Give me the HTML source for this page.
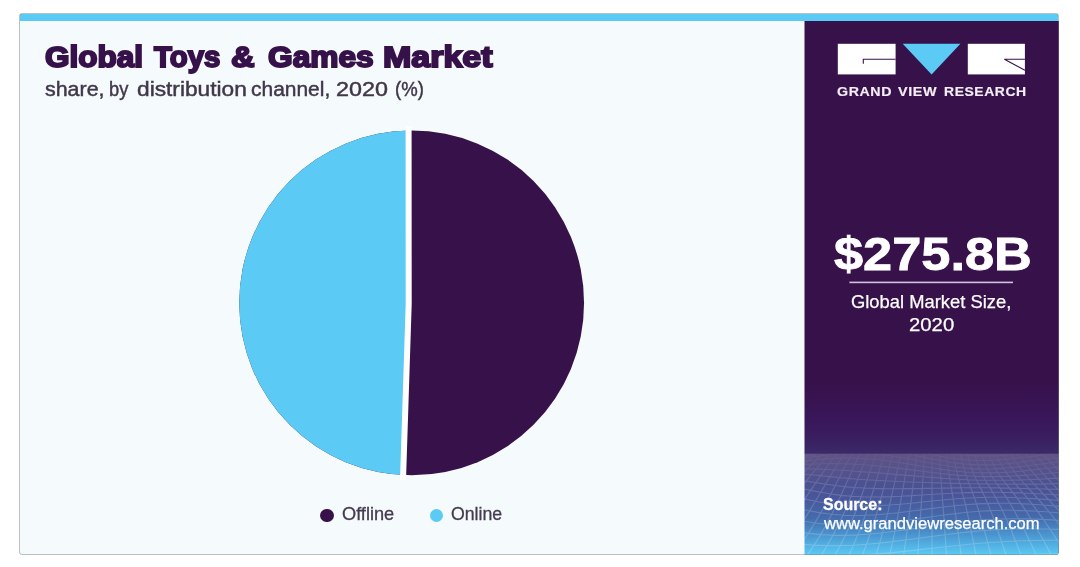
<!DOCTYPE html>
<html><head><meta charset="utf-8">
<style>
html,body{margin:0;padding:0;background:#fff;}
body{width:1080px;height:567px;position:relative;overflow:hidden;font-family:"Liberation Sans",sans-serif;}
.a{position:absolute;}
.t{position:absolute;white-space:nowrap;transform-origin:0 0;}
#card{left:19px;top:13px;width:1040px;height:542px;border-radius:3px;background:#f5fafd;overflow:hidden;}
#frame{left:19px;top:13px;width:1040px;height:542px;box-sizing:border-box;border:1px solid rgba(120,125,130,.45);border-radius:3px;pointer-events:none;}
#topbar{left:20px;top:14px;width:1038px;height:7px;background:#5bcbf5;}
.dot{position:absolute;width:13.4px;height:13.4px;border-radius:50%;}
#all{position:absolute;left:0;top:0;width:1080px;height:567px;filter:blur(0.6px);}
</style></head><body>
<div id="all">
<div class="a" id="card"></div>
<div class="a" id="topbar"></div>

<svg class="a" style="left:0;top:0" width="1080" height="567" viewBox="0 0 1080 567">
  <defs>
    <linearGradient id="sg" gradientUnits="userSpaceOnUse" x1="0" y1="21" x2="0" y2="555">
      <stop offset="0" stop-color="#37114a"/>
      <stop offset="0.6742" stop-color="#37114a"/>
      <stop offset="0.7491" stop-color="#39175a"/>
      <stop offset="0.7865" stop-color="#3a2061"/>
      <stop offset="0.8090" stop-color="#3a2a68"/>
      <stop offset="0.8521" stop-color="#3e3f82"/>
      <stop offset="0.8914" stop-color="#3e4c93"/>
      <stop offset="0.9307" stop-color="#3f67aa"/>
      <stop offset="0.9625" stop-color="#4894cf"/>
      <stop offset="1" stop-color="#5bcbf5"/>
    </linearGradient>
    <clipPath id="cc"><rect x="19" y="13" width="1040" height="542" rx="3" ry="3"/></clipPath>
    <clipPath id="pc"><circle cx="411.65" cy="302.95" r="172.4"/></clipPath>
    <linearGradient id="hz" x1="0" y1="0" x2="0" y2="1">
      <stop offset="0" stop-color="#fff" stop-opacity="0.19"/>
      <stop offset="0.3" stop-color="#fff" stop-opacity="0.07"/>
      <stop offset="0.7" stop-color="#fff" stop-opacity="0.02"/>
      <stop offset="1" stop-color="#fff" stop-opacity="0"/>
    </linearGradient>
    <clipPath id="mc"><rect x="0" y="0" width="255" height="102"/></clipPath>
    <linearGradient id="mg" x1="0" y1="0" x2="0" y2="1">
      <stop offset="0" stop-color="#fff" stop-opacity="0.15"/>
      <stop offset="0.12" stop-color="#fff" stop-opacity="0.35"/>
      <stop offset="0.35" stop-color="#fff" stop-opacity="0.85"/>
      <stop offset="1" stop-color="#fff" stop-opacity="1"/>
    </linearGradient>
    <mask id="mm" maskUnits="userSpaceOnUse" x="0" y="0" width="255" height="102"><rect x="0" y="0" width="255" height="102" fill="url(#mg)"/></mask>
  </defs>
  <rect x="804.5" y="21" width="254.5" height="534" fill="url(#sg)" clip-path="url(#cc)"/>
  <!-- pie -->
  <circle cx="411.65" cy="302.95" r="172.4" fill="#37114a"/>
  <path d="M408.6 120 L408.7 304 L403 486 L230 486 L230 120 Z" fill="#5bcbf5" clip-path="url(#pc)"/>
  <path d="M408.6 126 L408.7 304 L403 480" fill="none" stroke="#fff" stroke-width="6" stroke-linejoin="round"/>
  <!-- mesh -->
  <g transform="translate(804 453.4)" clip-path="url(#mc)">
    <rect x="0" y="0" width="255" height="102" fill="url(#hz)"/>
    <path d="M-66.6 -0.9 L-59.6 -0.4 L-52.7 -0.1 L-45.7 0.0 L-38.8 -0.0 L-31.8 -0.2 L-24.9 -0.7 L-17.9 -1.3 L-11.0 -2.1 L-4.0 -3.1 L2.9 -4.2 L9.9 -5.3 L16.8 -6.5 L23.8 -7.7 L30.7 -8.8 L37.7 -9.8 L44.6 -10.7 L51.6 -11.4 L58.5 -11.9 L65.5 -12.2 L72.4 -12.3 L79.4 -12.1 L86.3 -11.7 L93.3 -11.2 L100.2 -10.5 L107.2 -9.6 L114.1 -8.6 L121.1 -7.6 L128.0 -6.6 L134.9 -5.6 L141.9 -4.7 L148.8 -3.9 L155.8 -3.2 L162.7 -2.7 L169.7 -2.3 L176.6 -2.1 L183.6 -2.1 L190.5 -2.2 L197.5 -2.5 L204.4 -2.8 L211.4 -3.3 L218.3 -3.7 L225.3 -4.2 L232.2 -4.7 L239.2 -5.1 L246.1 -5.4 L253.1 -5.6 L260.0 -5.7 L267.0 -5.6 L273.9 -5.5 L280.9 -5.2 L287.8 -4.8 L294.8 -4.4 L301.7 -3.9 L308.7 -3.3 L315.6 -2.9 L322.6 -2.4 M-72.9 2.4 L-65.7 2.9 L-58.5 3.4 L-51.4 3.6 L-44.2 3.5 L-37.0 3.3 L-29.8 2.8 L-22.7 2.0 L-15.5 1.1 L-8.3 -0.0 L-1.1 -1.3 L6.0 -2.6 L13.2 -4.0 L20.4 -5.4 L27.6 -6.6 L34.7 -7.8 L41.9 -8.8 L49.1 -9.5 L56.3 -10.1 L63.4 -10.3 L70.6 -10.3 L77.8 -10.0 L85.0 -9.4 L92.1 -8.7 L99.3 -7.7 L106.5 -6.5 L113.7 -5.3 L120.8 -4.0 L128.0 -2.7 L135.2 -1.5 L142.3 -0.4 L149.5 0.6 L156.7 1.4 L163.9 2.0 L171.0 2.4 L178.2 2.5 L185.4 2.5 L192.6 2.2 L199.7 1.7 L206.9 1.2 L214.1 0.5 L221.3 -0.3 L228.4 -1.0 L235.6 -1.7 L242.8 -2.3 L250.0 -2.8 L257.1 -3.2 L264.3 -3.4 L271.5 -3.4 L278.7 -3.3 L285.8 -3.0 L293.0 -2.5 L300.2 -2.0 L307.4 -1.4 L314.5 -0.7 L321.7 -0.1 L328.9 0.5 M-79.6 5.6 L-72.2 6.2 L-64.8 6.6 L-57.3 6.9 L-49.9 6.8 L-42.5 6.6 L-35.1 6.0 L-27.7 5.2 L-20.3 4.2 L-12.9 3.0 L-5.4 1.6 L2.0 0.2 L9.4 -1.3 L16.8 -2.7 L24.2 -4.1 L31.6 -5.3 L39.0 -6.3 L46.4 -7.1 L53.9 -7.6 L61.3 -7.7 L68.7 -7.6 L76.1 -7.2 L83.5 -6.5 L90.9 -5.6 L98.3 -4.4 L105.8 -3.1 L113.2 -1.6 L120.6 -0.1 L128.0 1.3 L135.4 2.7 L142.8 4.0 L150.2 5.1 L157.7 6.0 L165.1 6.6 L172.5 7.0 L179.9 7.1 L187.3 6.9 L194.7 6.5 L202.1 5.9 L209.6 5.2 L217.0 4.3 L224.4 3.4 L231.8 2.5 L239.2 1.6 L246.6 0.8 L254.0 0.1 L261.4 -0.4 L268.9 -0.7 L276.3 -0.8 L283.7 -0.7 L291.1 -0.4 L298.5 0.1 L305.9 0.6 L313.3 1.3 L320.8 2.0 L328.2 2.8 L335.6 3.4 M-86.8 8.7 L-79.1 9.3 L-71.4 9.7 L-63.7 9.9 L-56.1 9.9 L-48.4 9.6 L-40.7 9.0 L-33.1 8.2 L-25.4 7.2 L-17.7 6.0 L-10.1 4.6 L-2.4 3.1 L5.3 1.7 L13.0 0.2 L20.6 -1.1 L28.3 -2.3 L36.0 -3.2 L43.6 -3.9 L51.3 -4.3 L59.0 -4.4 L66.6 -4.2 L74.3 -3.7 L82.0 -2.9 L89.7 -1.8 L97.3 -0.5 L105.0 0.9 L112.7 2.4 L120.3 4.0 L128.0 5.6 L135.7 7.0 L143.3 8.3 L151.0 9.5 L158.7 10.4 L166.3 11.0 L174.0 11.3 L181.7 11.4 L189.4 11.2 L197.0 10.8 L204.7 10.1 L212.4 9.3 L220.0 8.3 L227.7 7.3 L235.4 6.3 L243.0 5.3 L250.7 4.4 L258.4 3.6 L266.1 3.0 L273.7 2.6 L281.4 2.4 L289.1 2.4 L296.7 2.7 L304.4 3.1 L312.1 3.6 L319.7 4.3 L327.4 5.0 L335.1 5.7 L342.8 6.4 M-94.4 11.8 L-86.5 12.3 L-78.6 12.6 L-70.6 12.7 L-62.7 12.7 L-54.7 12.3 L-46.8 11.8 L-38.8 11.0 L-30.9 10.0 L-22.9 8.8 L-15.0 7.6 L-7.1 6.2 L0.9 4.8 L8.8 3.5 L16.8 2.4 L24.7 1.4 L32.7 0.6 L40.6 0.1 L48.6 -0.2 L56.5 -0.2 L64.4 0.1 L72.4 0.7 L80.3 1.5 L88.3 2.6 L96.2 3.9 L104.2 5.3 L112.1 6.8 L120.1 8.4 L128.0 9.9 L135.9 11.3 L143.9 12.6 L151.8 13.7 L159.8 14.6 L167.7 15.2 L175.7 15.5 L183.6 15.6 L191.6 15.3 L199.5 14.9 L207.4 14.2 L215.4 13.4 L223.3 12.4 L231.3 11.4 L239.2 10.4 L247.2 9.3 L255.1 8.4 L263.1 7.6 L271.0 6.9 L278.9 6.5 L286.9 6.2 L294.8 6.1 L302.8 6.3 L310.7 6.6 L318.7 7.0 L326.6 7.5 L334.6 8.1 L342.5 8.8 L350.4 9.3 M-102.7 14.9 L-94.5 15.2 L-86.2 15.4 L-78.0 15.4 L-69.7 15.2 L-61.5 14.9 L-53.3 14.3 L-45.0 13.6 L-36.8 12.7 L-28.5 11.7 L-20.3 10.6 L-12.1 9.4 L-3.8 8.3 L4.4 7.2 L12.7 6.3 L20.9 5.6 L29.1 5.0 L37.4 4.8 L45.6 4.7 L53.8 4.9 L62.1 5.3 L70.3 5.9 L78.6 6.7 L86.8 7.8 L95.0 9.0 L103.3 10.3 L111.5 11.7 L119.8 13.1 L128.0 14.4 L136.2 15.7 L144.5 16.8 L152.7 17.8 L161.0 18.6 L169.2 19.1 L177.4 19.4 L185.7 19.5 L193.9 19.3 L202.2 18.9 L210.4 18.3 L218.6 17.6 L226.9 16.7 L235.1 15.8 L243.3 14.8 L251.6 13.9 L259.8 13.0 L268.1 12.2 L276.3 11.5 L284.5 11.0 L292.8 10.6 L301.0 10.5 L309.3 10.4 L317.5 10.6 L325.7 10.8 L334.0 11.2 L342.2 11.6 L350.5 12.0 L358.7 12.4 M-111.6 18.0 L-103.0 18.1 L-94.5 18.0 L-85.9 17.9 L-77.4 17.6 L-68.8 17.2 L-60.2 16.7 L-51.7 16.1 L-43.1 15.4 L-34.6 14.6 L-26.0 13.7 L-17.5 12.7 L-8.9 11.9 L-0.4 11.1 L8.2 10.6 L16.8 10.3 L25.3 10.1 L33.9 10.2 L42.4 10.4 L51.0 10.8 L59.5 11.3 L68.1 12.0 L76.7 12.7 L85.2 13.7 L93.8 14.7 L102.3 15.8 L110.9 16.9 L119.4 18.0 L128.0 19.1 L136.6 20.1 L145.1 21.0 L153.7 21.8 L162.2 22.4 L170.8 22.9 L179.3 23.2 L187.9 23.2 L196.5 23.1 L205.0 22.8 L213.6 22.4 L222.1 21.8 L230.7 21.1 L239.2 20.4 L247.8 19.6 L256.4 18.8 L264.9 18.0 L273.5 17.3 L282.0 16.7 L290.6 16.2 L299.1 15.7 L307.7 15.4 L316.2 15.2 L324.8 15.1 L333.4 15.1 L341.9 15.2 L350.5 15.3 L359.0 15.4 L367.6 15.6 M-121.2 21.3 L-112.3 21.0 L-103.4 20.7 L-94.5 20.4 L-85.6 20.0 L-76.7 19.6 L-67.8 19.2 L-58.9 18.7 L-50.0 18.2 L-41.1 17.6 L-32.2 16.9 L-23.3 16.3 L-14.4 15.8 L-5.5 15.4 L3.4 15.3 L12.3 15.5 L21.2 15.9 L30.1 16.4 L39.0 16.9 L47.9 17.6 L56.8 18.2 L65.7 18.8 L74.6 19.5 L83.5 20.2 L92.4 21.0 L101.3 21.7 L110.2 22.5 L119.1 23.3 L128.0 24.0 L136.9 24.7 L145.8 25.3 L154.7 25.8 L163.6 26.3 L172.5 26.6 L181.4 26.8 L190.3 26.9 L199.2 26.9 L208.1 26.7 L217.0 26.5 L225.9 26.1 L234.8 25.7 L243.7 25.2 L252.6 24.7 L261.5 24.1 L270.4 23.6 L279.3 23.0 L288.2 22.4 L297.1 21.9 L306.0 21.4 L314.9 21.0 L323.8 20.5 L332.7 20.2 L341.6 19.9 L350.5 19.6 L359.4 19.4 L368.3 19.2 L377.2 19.1 M-131.6 24.8 L-122.3 24.2 L-113.1 23.6 L-103.8 23.1 L-94.5 22.6 L-85.2 22.2 L-76.0 21.9 L-66.7 21.5 L-57.4 21.2 L-48.2 20.9 L-38.9 20.5 L-29.6 20.2 L-20.3 20.0 L-11.1 20.1 L-1.8 20.5 L7.5 21.3 L16.7 22.2 L26.0 23.2 L35.3 24.2 L44.6 25.0 L53.8 25.8 L63.1 26.4 L72.4 27.0 L81.6 27.4 L90.9 27.9 L100.2 28.3 L109.5 28.6 L118.7 28.9 L128.0 29.2 L137.3 29.5 L146.5 29.8 L155.8 30.0 L165.1 30.2 L174.4 30.4 L183.6 30.5 L192.9 30.6 L202.2 30.7 L211.4 30.7 L220.7 30.7 L230.0 30.7 L239.3 30.5 L248.5 30.4 L257.8 30.2 L267.1 29.9 L276.3 29.6 L285.6 29.2 L294.9 28.7 L304.2 28.2 L313.4 27.6 L322.7 27.1 L332.0 26.4 L341.2 25.8 L350.5 25.2 L359.8 24.5 L369.1 23.9 L378.3 23.4 L387.6 22.9 M-142.9 28.7 L-133.2 27.8 L-123.6 26.9 L-113.9 26.2 L-104.2 25.6 L-94.5 25.2 L-84.9 25.0 L-75.2 24.8 L-65.5 24.7 L-55.8 24.7 L-46.2 24.6 L-36.5 24.6 L-26.8 24.9 L-17.1 25.5 L-7.5 26.4 L2.2 27.7 L11.9 29.2 L21.6 30.7 L31.2 32.1 L40.9 33.2 L50.6 34.1 L60.3 34.6 L69.9 35.0 L79.6 35.2 L89.3 35.3 L99.0 35.3 L108.6 35.2 L118.3 35.0 L128.0 34.8 L137.7 34.7 L147.4 34.5 L157.0 34.4 L166.7 34.3 L176.4 34.3 L186.1 34.4 L195.7 34.5 L205.4 34.7 L215.1 34.9 L224.8 35.2 L234.4 35.4 L244.1 35.7 L253.8 35.9 L263.5 36.0 L273.1 36.0 L282.8 35.9 L292.5 35.7 L302.2 35.4 L311.8 34.9 L321.5 34.3 L331.2 33.6 L340.9 32.8 L350.5 31.9 L360.2 30.9 L369.9 29.9 L379.6 29.0 L389.2 28.0 L398.9 27.2 M-155.3 33.2 L-145.1 31.9 L-135.0 30.8 L-124.9 29.9 L-114.8 29.3 L-104.7 29.0 L-94.6 28.8 L-84.4 28.9 L-74.3 29.1 L-64.2 29.3 L-54.1 29.6 L-44.0 30.0 L-33.9 30.7 L-23.7 31.7 L-13.6 33.2 L-3.5 35.0 L6.6 37.0 L16.7 38.9 L26.8 40.6 L37.0 42.0 L47.1 42.9 L57.2 43.4 L67.3 43.6 L77.4 43.5 L87.5 43.2 L97.7 42.8 L107.8 42.2 L117.9 41.6 L128.0 40.9 L138.1 40.3 L148.2 39.8 L158.3 39.3 L168.5 39.0 L178.6 38.8 L188.7 38.8 L198.8 38.9 L208.9 39.2 L219.0 39.6 L229.2 40.1 L239.3 40.6 L249.4 41.1 L259.5 41.7 L269.6 42.1 L279.7 42.5 L289.9 42.6 L300.0 42.7 L310.1 42.5 L320.2 42.1 L330.3 41.4 L340.4 40.6 L350.6 39.6 L360.7 38.5 L370.8 37.2 L380.9 35.9 L391.0 34.6 L401.1 33.3 L411.3 32.1 M-168.8 38.4 L-158.2 36.9 L-147.6 35.6 L-137.0 34.6 L-126.4 34.0 L-115.8 33.7 L-105.2 33.7 L-94.6 34.0 L-84.0 34.4 L-73.4 35.0 L-62.8 35.7 L-52.2 36.5 L-41.6 37.7 L-31.0 39.2 L-20.4 41.1 L-9.8 43.3 L0.8 45.7 L11.4 47.9 L22.0 49.8 L32.6 51.2 L43.2 52.2 L53.8 52.6 L64.4 52.6 L75.0 52.2 L85.6 51.6 L96.2 50.8 L106.8 49.8 L117.4 48.7 L128.0 47.6 L138.6 46.6 L149.2 45.6 L159.8 44.9 L170.4 44.3 L181.0 43.9 L191.6 43.8 L202.2 43.9 L212.8 44.3 L223.4 44.8 L234.0 45.5 L244.6 46.2 L255.2 47.1 L265.8 47.9 L276.4 48.6 L287.0 49.2 L297.6 49.6 L308.2 49.8 L318.8 49.8 L329.4 49.4 L340.0 48.8 L350.6 47.9 L361.2 46.8 L371.8 45.5 L382.4 44.0 L393.0 42.4 L403.6 40.8 L414.2 39.3 L424.8 37.8 M-183.7 44.6 L-172.5 42.9 L-161.4 41.5 L-150.3 40.5 L-139.1 39.9 L-128.0 39.7 L-116.9 39.8 L-105.7 40.3 L-94.6 41.1 L-83.5 42.0 L-72.4 43.1 L-61.2 44.4 L-50.1 46.0 L-39.0 47.9 L-27.8 50.1 L-16.7 52.6 L-5.6 55.2 L5.6 57.5 L16.7 59.5 L27.8 60.9 L39.0 61.8 L50.1 62.1 L61.2 61.9 L72.3 61.3 L83.5 60.4 L94.6 59.3 L105.7 57.9 L116.9 56.5 L128.0 55.0 L139.1 53.6 L150.3 52.4 L161.4 51.3 L172.5 50.5 L183.7 50.0 L194.8 49.8 L205.9 49.8 L217.0 50.2 L228.2 50.8 L239.3 51.6 L250.4 52.5 L261.6 53.5 L272.7 54.6 L283.8 55.5 L295.0 56.3 L306.1 56.9 L317.2 57.3 L328.4 57.3 L339.5 57.1 L350.6 56.5 L361.7 55.6 L372.9 54.4 L384.0 52.9 L395.1 51.3 L406.3 49.6 L417.4 47.8 L428.5 46.1 L439.7 44.5 M-200.1 51.8 L-188.4 50.2 L-176.7 48.8 L-165.0 47.8 L-153.2 47.3 L-141.5 47.2 L-129.8 47.5 L-118.1 48.3 L-106.4 49.3 L-94.7 50.6 L-82.9 52.0 L-71.2 53.7 L-59.5 55.6 L-47.8 57.8 L-36.1 60.3 L-24.3 62.8 L-12.6 65.4 L-0.9 67.7 L10.8 69.6 L22.5 70.9 L34.3 71.7 L46.0 71.9 L57.7 71.6 L69.4 70.8 L81.1 69.7 L92.8 68.3 L104.6 66.7 L116.3 65.0 L128.0 63.3 L139.7 61.6 L151.4 60.2 L163.2 58.9 L174.9 57.9 L186.6 57.2 L198.3 56.9 L210.0 56.9 L221.7 57.2 L233.5 57.8 L245.2 58.6 L256.9 59.6 L268.6 60.7 L280.3 61.8 L292.1 62.8 L303.8 63.8 L315.5 64.5 L327.2 64.9 L338.9 65.1 L350.7 64.9 L362.4 64.3 L374.1 63.5 L385.8 62.3 L397.5 60.9 L409.2 59.2 L421.0 57.5 L432.7 55.7 L444.4 54.0 L456.1 52.4 M-218.4 60.4 L-206.0 58.9 L-193.7 57.7 L-181.3 56.9 L-168.9 56.5 L-156.5 56.6 L-144.2 57.1 L-131.8 58.0 L-119.4 59.2 L-107.1 60.7 L-94.7 62.5 L-82.3 64.4 L-69.9 66.5 L-57.6 68.8 L-45.2 71.3 L-32.8 73.8 L-20.5 76.2 L-8.1 78.3 L4.3 80.0 L16.7 81.2 L29.0 81.8 L41.4 81.9 L53.8 81.5 L66.1 80.6 L78.5 79.4 L90.9 77.9 L103.3 76.2 L115.6 74.4 L128.0 72.6 L140.4 70.8 L152.7 69.2 L165.1 67.8 L177.5 66.7 L189.9 65.9 L202.2 65.4 L214.6 65.3 L227.0 65.5 L239.3 66.0 L251.7 66.7 L264.1 67.6 L276.5 68.7 L288.8 69.7 L301.2 70.7 L313.6 71.7 L325.9 72.4 L338.3 72.8 L350.7 73.0 L363.1 72.9 L375.4 72.5 L387.8 71.7 L400.2 70.6 L412.5 69.3 L424.9 67.9 L437.3 66.3 L449.7 64.6 L462.0 63.1 L474.4 61.7 M-238.8 70.6 L-225.7 69.4 L-212.6 68.5 L-199.5 67.9 L-186.4 67.7 L-173.3 68.0 L-160.2 68.6 L-147.1 69.6 L-134.0 71.0 L-120.9 72.6 L-107.8 74.4 L-94.7 76.4 L-81.6 78.6 L-68.5 80.8 L-55.4 83.1 L-42.3 85.4 L-29.2 87.5 L-16.1 89.3 L-3.0 90.8 L10.1 91.7 L23.2 92.2 L36.3 92.2 L49.4 91.8 L62.5 90.9 L75.6 89.7 L88.7 88.2 L101.8 86.6 L114.9 84.8 L128.0 83.0 L141.1 81.3 L154.2 79.7 L167.3 78.2 L180.4 77.1 L193.5 76.2 L206.6 75.6 L219.7 75.3 L232.8 75.3 L245.9 75.6 L259.0 76.1 L272.1 76.8 L285.2 77.7 L298.3 78.5 L311.4 79.4 L324.5 80.1 L337.6 80.8 L350.7 81.2 L363.8 81.4 L376.9 81.3 L390.0 81.0 L403.1 80.4 L416.2 79.6 L429.3 78.5 L442.4 77.3 L455.5 76.1 L468.6 74.8 L481.7 73.6 L494.8 72.5 M-261.9 82.6 L-247.9 81.8 L-234.0 81.3 L-220.1 81.1 L-206.2 81.2 L-192.2 81.7 L-178.3 82.5 L-164.4 83.5 L-150.5 84.9 L-136.5 86.4 L-122.6 88.1 L-108.7 89.9 L-94.8 91.9 L-80.9 93.8 L-66.9 95.8 L-53.0 97.6 L-39.1 99.3 L-25.2 100.8 L-11.2 101.9 L2.7 102.6 L16.6 103.0 L30.5 102.9 L44.5 102.5 L58.4 101.8 L72.3 100.7 L86.2 99.5 L100.2 98.0 L114.1 96.5 L128.0 94.9 L141.9 93.3 L155.8 91.8 L169.8 90.4 L183.7 89.3 L197.6 88.3 L211.5 87.6 L225.5 87.1 L239.4 86.9 L253.3 86.9 L267.2 87.1 L281.2 87.4 L295.1 87.9 L309.0 88.4 L322.9 88.9 L336.9 89.4 L350.8 89.9 L364.7 90.2 L378.6 90.3 L392.5 90.3 L406.5 90.1 L420.4 89.8 L434.3 89.2 L448.2 88.6 L462.2 87.9 L476.1 87.1 L490.0 86.3 L503.9 85.6 L517.9 85.0 M-287.9 96.6 L-273.1 96.5 L-258.2 96.5 L-243.4 96.8 L-228.5 97.3 L-213.7 97.9 L-198.8 98.8 L-184.0 99.8 L-169.1 101.0 L-154.2 102.3 L-139.4 103.7 L-124.5 105.1 L-109.7 106.6 L-94.8 108.1 L-80.0 109.5 L-65.1 110.8 L-50.3 112.0 L-35.4 113.0 L-20.6 113.7 L-5.7 114.2 L9.2 114.4 L24.0 114.4 L38.9 114.0 L53.7 113.5 L68.6 112.7 L83.4 111.8 L98.3 110.7 L113.1 109.5 L128.0 108.3 L142.9 107.0 L157.7 105.8 L172.6 104.6 L187.4 103.5 L202.3 102.5 L217.1 101.7 L232.0 101.0 L246.8 100.5 L261.7 100.1 L276.6 99.8 L291.4 99.7 L306.3 99.6 L321.1 99.7 L336.0 99.8 L350.8 99.9 L365.7 100.0 L380.5 100.1 L395.4 100.2 L410.2 100.2 L425.1 100.2 L440.0 100.1 L454.8 100.1 L469.7 99.9 L484.5 99.8 L499.4 99.7 L514.2 99.6 L529.1 99.6 L543.9 99.7 M-317.8 113.1 L-301.8 113.7 L-285.9 114.4 L-270.0 115.2 L-254.1 116.0 L-238.2 116.9 L-222.2 117.8 L-206.3 118.7 L-190.4 119.7 L-174.5 120.6 L-158.6 121.5 L-142.6 122.4 L-126.7 123.2 L-110.8 123.9 L-94.9 124.6 L-79.0 125.3 L-63.0 125.8 L-47.1 126.2 L-31.2 126.6 L-15.3 126.8 L0.6 126.9 L16.6 126.8 L32.5 126.7 L48.4 126.4 L64.3 126.0 L80.2 125.5 L96.2 125.0 L112.1 124.3 L128.0 123.5 L143.9 122.7 L159.8 121.8 L175.8 120.9 L191.7 120.0 L207.6 119.1 L223.5 118.1 L239.4 117.2 L255.4 116.3 L271.3 115.4 L287.2 114.6 L303.1 113.9 L319.0 113.3 L335.0 112.7 L350.9 112.2 L366.8 111.9 L382.7 111.6 L398.6 111.5 L414.6 111.4 L430.5 111.5 L446.4 111.7 L462.3 112.0 L478.2 112.4 L494.2 112.9 L510.1 113.5 L526.0 114.2 L541.9 114.9 L557.8 115.8 L573.8 116.6 M-352.2 132.2 L-335.1 133.7 L-317.9 135.2 L-300.8 136.5 L-283.6 137.8 L-266.5 138.9 L-249.3 139.8 L-232.2 140.6 L-215.0 141.2 L-197.9 141.6 L-180.7 141.9 L-163.6 142.0 L-146.4 142.0 L-129.3 141.9 L-112.1 141.8 L-95.0 141.6 L-77.8 141.4 L-60.7 141.2 L-43.5 141.1 L-26.4 141.0 L-9.2 141.0 L7.9 141.0 L25.1 141.0 L42.2 141.1 L59.4 141.1 L76.5 141.2 L93.7 141.2 L110.8 141.1 L128.0 141.0 L145.2 140.7 L162.3 140.3 L179.5 139.7 L196.6 139.0 L213.8 138.1 L230.9 137.1 L248.1 135.9 L265.2 134.7 L282.4 133.3 L299.5 131.9 L316.7 130.5 L333.8 129.2 L351.0 128.0 L368.1 126.9 L385.3 126.0 L402.4 125.3 L419.6 124.9 L436.7 124.7 L453.9 124.8 L471.0 125.2 L488.2 126.0 L505.3 126.9 L522.5 128.1 L539.6 129.5 L556.8 131.1 L573.9 132.8 L591.1 134.6 L608.2 136.3 M-392.4 154.7 L-373.8 157.1 L-355.2 159.3 L-336.7 161.3 L-318.1 162.9 L-299.5 164.2 L-280.9 165.2 L-262.3 165.8 L-243.7 165.9 L-225.1 165.8 L-206.5 165.3 L-188.0 164.6 L-169.4 163.7 L-150.8 162.6 L-132.2 161.6 L-113.6 160.5 L-95.0 159.5 L-76.4 158.7 L-57.9 158.1 L-39.3 157.6 L-20.7 157.4 L-2.1 157.5 L16.5 157.7 L35.1 158.1 L53.7 158.7 L72.2 159.3 L90.8 160.0 L109.4 160.6 L128.0 161.1 L146.6 161.4 L165.2 161.5 L183.8 161.4 L202.3 160.9 L220.9 160.1 L239.5 159.0 L258.1 157.6 L276.7 156.0 L295.3 154.1 L313.9 152.2 L332.4 150.1 L351.0 148.1 L369.6 146.2 L388.2 144.4 L406.8 143.0 L425.4 141.8 L444.0 141.1 L462.5 140.8 L481.1 141.0 L499.7 141.7 L518.3 142.8 L536.9 144.4 L555.5 146.4 L574.1 148.6 L592.7 151.1 L611.2 153.8 L629.8 156.5 L648.4 159.2 M-440.0 181.1 L-419.7 184.4 L-399.4 187.4 L-379.1 189.9 L-358.8 192.0 L-338.5 193.5 L-318.3 194.4 L-298.0 194.7 L-277.7 194.5 L-257.4 193.7 L-237.1 192.4 L-216.8 190.8 L-196.5 189.0 L-176.3 187.0 L-156.0 184.9 L-135.7 183.0 L-115.4 181.2 L-95.1 179.6 L-74.8 178.5 L-54.6 177.7 L-34.3 177.3 L-14.0 177.3 L6.3 177.8 L26.6 178.5 L46.9 179.6 L67.1 180.8 L87.4 182.1 L107.7 183.4 L128.0 184.5 L148.3 185.5 L168.6 186.1 L188.9 186.3 L209.1 186.2 L229.4 185.5 L249.7 184.4 L270.0 182.8 L290.3 180.9 L310.6 178.6 L330.8 176.0 L351.1 173.4 L371.4 170.7 L391.7 168.1 L412.0 165.8 L432.3 163.8 L452.5 162.3 L472.8 161.3 L493.1 160.9 L513.4 161.2 L533.7 162.1 L554.0 163.7 L574.3 165.9 L594.5 168.6 L614.8 171.7 L635.1 175.1 L655.4 178.8 L675.7 182.4 L696.0 186.0 M-66.6 -0.9 L-72.9 2.4 L-79.6 5.6 L-86.8 8.7 L-94.4 11.8 L-102.7 14.9 L-111.6 18.0 L-121.2 21.3 L-131.6 24.8 L-142.9 28.7 L-155.3 33.2 L-168.8 38.4 L-183.7 44.6 L-200.1 51.8 L-218.4 60.4 L-238.8 70.6 L-261.9 82.6 L-287.9 96.6 L-317.8 113.1 L-352.2 132.2 L-392.4 154.7 L-440.0 181.1 M-59.6 -0.4 L-65.7 2.9 L-72.2 6.2 L-79.1 9.3 L-86.5 12.3 L-94.5 15.2 L-103.0 18.1 L-112.3 21.0 L-122.3 24.2 L-133.2 27.8 L-145.1 31.9 L-158.2 36.9 L-172.5 42.9 L-188.4 50.2 L-206.0 58.9 L-225.7 69.4 L-247.9 81.8 L-273.1 96.5 L-301.8 113.7 L-335.1 133.7 L-373.8 157.1 L-419.7 184.4 M-52.7 -0.1 L-58.5 3.4 L-64.8 6.6 L-71.4 9.7 L-78.6 12.6 L-86.2 15.4 L-94.5 18.0 L-103.4 20.7 L-113.1 23.6 L-123.6 26.9 L-135.0 30.8 L-147.6 35.6 L-161.4 41.5 L-176.7 48.8 L-193.7 57.7 L-212.6 68.5 L-234.0 81.3 L-258.2 96.5 L-285.9 114.4 L-317.9 135.2 L-355.2 159.3 L-399.4 187.4 M-45.7 0.0 L-51.4 3.6 L-57.3 6.9 L-63.7 9.9 L-70.6 12.7 L-78.0 15.4 L-85.9 17.9 L-94.5 20.4 L-103.8 23.1 L-113.9 26.2 L-124.9 29.9 L-137.0 34.6 L-150.3 40.5 L-165.0 47.8 L-181.3 56.9 L-199.5 67.9 L-220.1 81.1 L-243.4 96.8 L-270.0 115.2 L-300.8 136.5 L-336.7 161.3 L-379.1 189.9 M-38.8 -0.0 L-44.2 3.5 L-49.9 6.8 L-56.1 9.9 L-62.7 12.7 L-69.7 15.2 L-77.4 17.6 L-85.6 20.0 L-94.5 22.6 L-104.2 25.6 L-114.8 29.3 L-126.4 34.0 L-139.1 39.9 L-153.2 47.3 L-168.9 56.5 L-186.4 67.7 L-206.2 81.2 L-228.5 97.3 L-254.1 116.0 L-283.6 137.8 L-318.1 162.9 L-358.8 192.0 M-31.8 -0.2 L-37.0 3.3 L-42.5 6.6 L-48.4 9.6 L-54.7 12.3 L-61.5 14.9 L-68.8 17.2 L-76.7 19.6 L-85.2 22.2 L-94.5 25.2 L-104.7 29.0 L-115.8 33.7 L-128.0 39.7 L-141.5 47.2 L-156.5 56.6 L-173.3 68.0 L-192.2 81.7 L-213.7 97.9 L-238.2 116.9 L-266.5 138.9 L-299.5 164.2 L-338.5 193.5 M-24.9 -0.7 L-29.8 2.8 L-35.1 6.0 L-40.7 9.0 L-46.8 11.8 L-53.3 14.3 L-60.2 16.7 L-67.8 19.2 L-76.0 21.9 L-84.9 25.0 L-94.6 28.8 L-105.2 33.7 L-116.9 39.8 L-129.8 47.5 L-144.2 57.1 L-160.2 68.6 L-178.3 82.5 L-198.8 98.8 L-222.2 117.8 L-249.3 139.8 L-280.9 165.2 L-318.3 194.4 M-17.9 -1.3 L-22.7 2.0 L-27.7 5.2 L-33.1 8.2 L-38.8 11.0 L-45.0 13.6 L-51.7 16.1 L-58.9 18.7 L-66.7 21.5 L-75.2 24.8 L-84.4 28.9 L-94.6 34.0 L-105.7 40.3 L-118.1 48.3 L-131.8 58.0 L-147.1 69.6 L-164.4 83.5 L-184.0 99.8 L-206.3 118.7 L-232.2 140.6 L-262.3 165.8 L-298.0 194.7 M-11.0 -2.1 L-15.5 1.1 L-20.3 4.2 L-25.4 7.2 L-30.9 10.0 L-36.8 12.7 L-43.1 15.4 L-50.0 18.2 L-57.4 21.2 L-65.5 24.7 L-74.3 29.1 L-84.0 34.4 L-94.6 41.1 L-106.4 49.3 L-119.4 59.2 L-134.0 71.0 L-150.5 84.9 L-169.1 101.0 L-190.4 119.7 L-215.0 141.2 L-243.7 165.9 L-277.7 194.5 M-4.0 -3.1 L-8.3 -0.0 L-12.9 3.0 L-17.7 6.0 L-22.9 8.8 L-28.5 11.7 L-34.6 14.6 L-41.1 17.6 L-48.2 20.9 L-55.8 24.7 L-64.2 29.3 L-73.4 35.0 L-83.5 42.0 L-94.7 50.6 L-107.1 60.7 L-120.9 72.6 L-136.5 86.4 L-154.2 102.3 L-174.5 120.6 L-197.9 141.6 L-225.1 165.8 L-257.4 193.7 M2.9 -4.2 L-1.1 -1.3 L-5.4 1.6 L-10.1 4.6 L-15.0 7.6 L-20.3 10.6 L-26.0 13.7 L-32.2 16.9 L-38.9 20.5 L-46.2 24.6 L-54.1 29.6 L-62.8 35.7 L-72.4 43.1 L-82.9 52.0 L-94.7 62.5 L-107.8 74.4 L-122.6 88.1 L-139.4 103.7 L-158.6 121.5 L-180.7 141.9 L-206.5 165.3 L-237.1 192.4 M9.9 -5.3 L6.0 -2.6 L2.0 0.2 L-2.4 3.1 L-7.1 6.2 L-12.1 9.4 L-17.5 12.7 L-23.3 16.3 L-29.6 20.2 L-36.5 24.6 L-44.0 30.0 L-52.2 36.5 L-61.2 44.4 L-71.2 53.7 L-82.3 64.4 L-94.7 76.4 L-108.7 89.9 L-124.5 105.1 L-142.6 122.4 L-163.6 142.0 L-188.0 164.6 L-216.8 190.8 M16.8 -6.5 L13.2 -4.0 L9.4 -1.3 L5.3 1.7 L0.9 4.8 L-3.8 8.3 L-8.9 11.9 L-14.4 15.8 L-20.3 20.0 L-26.8 24.9 L-33.9 30.7 L-41.6 37.7 L-50.1 46.0 L-59.5 55.6 L-69.9 66.5 L-81.6 78.6 L-94.8 91.9 L-109.7 106.6 L-126.7 123.2 L-146.4 142.0 L-169.4 163.7 L-196.5 189.0 M23.8 -7.7 L20.4 -5.4 L16.8 -2.7 L13.0 0.2 L8.8 3.5 L4.4 7.2 L-0.4 11.1 L-5.5 15.4 L-11.1 20.1 L-17.1 25.5 L-23.7 31.7 L-31.0 39.2 L-39.0 47.9 L-47.8 57.8 L-57.6 68.8 L-68.5 80.8 L-80.9 93.8 L-94.8 108.1 L-110.8 123.9 L-129.3 141.9 L-150.8 162.6 L-176.3 187.0 M30.7 -8.8 L27.6 -6.6 L24.2 -4.1 L20.6 -1.1 L16.8 2.4 L12.7 6.3 L8.2 10.6 L3.4 15.3 L-1.8 20.5 L-7.5 26.4 L-13.6 33.2 L-20.4 41.1 L-27.8 50.1 L-36.1 60.3 L-45.2 71.3 L-55.4 83.1 L-66.9 95.8 L-80.0 109.5 L-94.9 124.6 L-112.1 141.8 L-132.2 161.6 L-156.0 184.9 M37.7 -9.8 L34.7 -7.8 L31.6 -5.3 L28.3 -2.3 L24.7 1.4 L20.9 5.6 L16.8 10.3 L12.3 15.5 L7.5 21.3 L2.2 27.7 L-3.5 35.0 L-9.8 43.3 L-16.7 52.6 L-24.3 62.8 L-32.8 73.8 L-42.3 85.4 L-53.0 97.6 L-65.1 110.8 L-79.0 125.3 L-95.0 141.6 L-113.6 160.5 L-135.7 183.0 M44.6 -10.7 L41.9 -8.8 L39.0 -6.3 L36.0 -3.2 L32.7 0.6 L29.1 5.0 L25.3 10.1 L21.2 15.9 L16.7 22.2 L11.9 29.2 L6.6 37.0 L0.8 45.7 L-5.6 55.2 L-12.6 65.4 L-20.5 76.2 L-29.2 87.5 L-39.1 99.3 L-50.3 112.0 L-63.0 125.8 L-77.8 141.4 L-95.0 159.5 L-115.4 181.2 M51.6 -11.4 L49.1 -9.5 L46.4 -7.1 L43.6 -3.9 L40.6 0.1 L37.4 4.8 L33.9 10.2 L30.1 16.4 L26.0 23.2 L21.6 30.7 L16.7 38.9 L11.4 47.9 L5.6 57.5 L-0.9 67.7 L-8.1 78.3 L-16.1 89.3 L-25.2 100.8 L-35.4 113.0 L-47.1 126.2 L-60.7 141.2 L-76.4 158.7 L-95.1 179.6 M58.5 -11.9 L56.3 -10.1 L53.9 -7.6 L51.3 -4.3 L48.6 -0.2 L45.6 4.7 L42.4 10.4 L39.0 16.9 L35.3 24.2 L31.2 32.1 L26.8 40.6 L22.0 49.8 L16.7 59.5 L10.8 69.6 L4.3 80.0 L-3.0 90.8 L-11.2 101.9 L-20.6 113.7 L-31.2 126.6 L-43.5 141.1 L-57.9 158.1 L-74.8 178.5 M65.5 -12.2 L63.4 -10.3 L61.3 -7.7 L59.0 -4.4 L56.5 -0.2 L53.8 4.9 L51.0 10.8 L47.9 17.6 L44.6 25.0 L40.9 33.2 L37.0 42.0 L32.6 51.2 L27.8 60.9 L22.5 70.9 L16.7 81.2 L10.1 91.7 L2.7 102.6 L-5.7 114.2 L-15.3 126.8 L-26.4 141.0 L-39.3 157.6 L-54.6 177.7 M72.4 -12.3 L70.6 -10.3 L68.7 -7.6 L66.6 -4.2 L64.4 0.1 L62.1 5.3 L59.5 11.3 L56.8 18.2 L53.8 25.8 L50.6 34.1 L47.1 42.9 L43.2 52.2 L39.0 61.8 L34.3 71.7 L29.0 81.8 L23.2 92.2 L16.6 103.0 L9.2 114.4 L0.6 126.9 L-9.2 141.0 L-20.7 157.4 L-34.3 177.3 M79.4 -12.1 L77.8 -10.0 L76.1 -7.2 L74.3 -3.7 L72.4 0.7 L70.3 5.9 L68.1 12.0 L65.7 18.8 L63.1 26.4 L60.3 34.6 L57.2 43.4 L53.8 52.6 L50.1 62.1 L46.0 71.9 L41.4 81.9 L36.3 92.2 L30.5 102.9 L24.0 114.4 L16.6 126.8 L7.9 141.0 L-2.1 157.5 L-14.0 177.3 M86.3 -11.7 L85.0 -9.4 L83.5 -6.5 L82.0 -2.9 L80.3 1.5 L78.6 6.7 L76.7 12.7 L74.6 19.5 L72.4 27.0 L69.9 35.0 L67.3 43.6 L64.4 52.6 L61.2 61.9 L57.7 71.6 L53.8 81.5 L49.4 91.8 L44.5 102.5 L38.9 114.0 L32.5 126.7 L25.1 141.0 L16.5 157.7 L6.3 177.8 M93.3 -11.2 L92.1 -8.7 L90.9 -5.6 L89.7 -1.8 L88.3 2.6 L86.8 7.8 L85.2 13.7 L83.5 20.2 L81.6 27.4 L79.6 35.2 L77.4 43.5 L75.0 52.2 L72.3 61.3 L69.4 70.8 L66.1 80.6 L62.5 90.9 L58.4 101.8 L53.7 113.5 L48.4 126.4 L42.2 141.1 L35.1 158.1 L26.6 178.5 M100.2 -10.5 L99.3 -7.7 L98.3 -4.4 L97.3 -0.5 L96.2 3.9 L95.0 9.0 L93.8 14.7 L92.4 21.0 L90.9 27.9 L89.3 35.3 L87.5 43.2 L85.6 51.6 L83.5 60.4 L81.1 69.7 L78.5 79.4 L75.6 89.7 L72.3 100.7 L68.6 112.7 L64.3 126.0 L59.4 141.1 L53.7 158.7 L46.9 179.6 M107.2 -9.6 L106.5 -6.5 L105.8 -3.1 L105.0 0.9 L104.2 5.3 L103.3 10.3 L102.3 15.8 L101.3 21.7 L100.2 28.3 L99.0 35.3 L97.7 42.8 L96.2 50.8 L94.6 59.3 L92.8 68.3 L90.9 77.9 L88.7 88.2 L86.2 99.5 L83.4 111.8 L80.2 125.5 L76.5 141.2 L72.2 159.3 L67.1 180.8 M114.1 -8.6 L113.7 -5.3 L113.2 -1.6 L112.7 2.4 L112.1 6.8 L111.5 11.7 L110.9 16.9 L110.2 22.5 L109.5 28.6 L108.6 35.2 L107.8 42.2 L106.8 49.8 L105.7 57.9 L104.6 66.7 L103.3 76.2 L101.8 86.6 L100.2 98.0 L98.3 110.7 L96.2 125.0 L93.7 141.2 L90.8 160.0 L87.4 182.1 M121.1 -7.6 L120.8 -4.0 L120.6 -0.1 L120.3 4.0 L120.1 8.4 L119.8 13.1 L119.4 18.0 L119.1 23.3 L118.7 28.9 L118.3 35.0 L117.9 41.6 L117.4 48.7 L116.9 56.5 L116.3 65.0 L115.6 74.4 L114.9 84.8 L114.1 96.5 L113.1 109.5 L112.1 124.3 L110.8 141.1 L109.4 160.6 L107.7 183.4 M128.0 -6.6 L128.0 -2.7 L128.0 1.3 L128.0 5.6 L128.0 9.9 L128.0 14.4 L128.0 19.1 L128.0 24.0 L128.0 29.2 L128.0 34.8 L128.0 40.9 L128.0 47.6 L128.0 55.0 L128.0 63.3 L128.0 72.6 L128.0 83.0 L128.0 94.9 L128.0 108.3 L128.0 123.5 L128.0 141.0 L128.0 161.1 L128.0 184.5 M134.9 -5.6 L135.2 -1.5 L135.4 2.7 L135.7 7.0 L135.9 11.3 L136.2 15.7 L136.6 20.1 L136.9 24.7 L137.3 29.5 L137.7 34.7 L138.1 40.3 L138.6 46.6 L139.1 53.6 L139.7 61.6 L140.4 70.8 L141.1 81.3 L141.9 93.3 L142.9 107.0 L143.9 122.7 L145.2 140.7 L146.6 161.4 L148.3 185.5 M141.9 -4.7 L142.3 -0.4 L142.8 4.0 L143.3 8.3 L143.9 12.6 L144.5 16.8 L145.1 21.0 L145.8 25.3 L146.5 29.8 L147.4 34.5 L148.2 39.8 L149.2 45.6 L150.3 52.4 L151.4 60.2 L152.7 69.2 L154.2 79.7 L155.8 91.8 L157.7 105.8 L159.8 121.8 L162.3 140.3 L165.2 161.5 L168.6 186.1 M148.8 -3.9 L149.5 0.6 L150.2 5.1 L151.0 9.5 L151.8 13.7 L152.7 17.8 L153.7 21.8 L154.7 25.8 L155.8 30.0 L157.0 34.4 L158.3 39.3 L159.8 44.9 L161.4 51.3 L163.2 58.9 L165.1 67.8 L167.3 78.2 L169.8 90.4 L172.6 104.6 L175.8 120.9 L179.5 139.7 L183.8 161.4 L188.9 186.3 M155.8 -3.2 L156.7 1.4 L157.7 6.0 L158.7 10.4 L159.8 14.6 L161.0 18.6 L162.2 22.4 L163.6 26.3 L165.1 30.2 L166.7 34.3 L168.5 39.0 L170.4 44.3 L172.5 50.5 L174.9 57.9 L177.5 66.7 L180.4 77.1 L183.7 89.3 L187.4 103.5 L191.7 120.0 L196.6 139.0 L202.3 160.9 L209.1 186.2 M162.7 -2.7 L163.9 2.0 L165.1 6.6 L166.3 11.0 L167.7 15.2 L169.2 19.1 L170.8 22.9 L172.5 26.6 L174.4 30.4 L176.4 34.3 L178.6 38.8 L181.0 43.9 L183.7 50.0 L186.6 57.2 L189.9 65.9 L193.5 76.2 L197.6 88.3 L202.3 102.5 L207.6 119.1 L213.8 138.1 L220.9 160.1 L229.4 185.5 M169.7 -2.3 L171.0 2.4 L172.5 7.0 L174.0 11.3 L175.7 15.5 L177.4 19.4 L179.3 23.2 L181.4 26.8 L183.6 30.5 L186.1 34.4 L188.7 38.8 L191.6 43.8 L194.8 49.8 L198.3 56.9 L202.2 65.4 L206.6 75.6 L211.5 87.6 L217.1 101.7 L223.5 118.1 L230.9 137.1 L239.5 159.0 L249.7 184.4 M176.6 -2.1 L178.2 2.5 L179.9 7.1 L181.7 11.4 L183.6 15.6 L185.7 19.5 L187.9 23.2 L190.3 26.9 L192.9 30.6 L195.7 34.5 L198.8 38.9 L202.2 43.9 L205.9 49.8 L210.0 56.9 L214.6 65.3 L219.7 75.3 L225.5 87.1 L232.0 101.0 L239.4 117.2 L248.1 135.9 L258.1 157.6 L270.0 182.8 M183.6 -2.1 L185.4 2.5 L187.3 6.9 L189.4 11.2 L191.6 15.3 L193.9 19.3 L196.5 23.1 L199.2 26.9 L202.2 30.7 L205.4 34.7 L208.9 39.2 L212.8 44.3 L217.0 50.2 L221.7 57.2 L227.0 65.5 L232.8 75.3 L239.4 86.9 L246.8 100.5 L255.4 116.3 L265.2 134.7 L276.7 156.0 L290.3 180.9 M190.5 -2.2 L192.6 2.2 L194.7 6.5 L197.0 10.8 L199.5 14.9 L202.2 18.9 L205.0 22.8 L208.1 26.7 L211.4 30.7 L215.1 34.9 L219.0 39.6 L223.4 44.8 L228.2 50.8 L233.5 57.8 L239.3 66.0 L245.9 75.6 L253.3 86.9 L261.7 100.1 L271.3 115.4 L282.4 133.3 L295.3 154.1 L310.6 178.6 M197.5 -2.5 L199.7 1.7 L202.1 5.9 L204.7 10.1 L207.4 14.2 L210.4 18.3 L213.6 22.4 L217.0 26.5 L220.7 30.7 L224.8 35.2 L229.2 40.1 L234.0 45.5 L239.3 51.6 L245.2 58.6 L251.7 66.7 L259.0 76.1 L267.2 87.1 L276.6 99.8 L287.2 114.6 L299.5 131.9 L313.9 152.2 L330.8 176.0 M204.4 -2.8 L206.9 1.2 L209.6 5.2 L212.4 9.3 L215.4 13.4 L218.6 17.6 L222.1 21.8 L225.9 26.1 L230.0 30.7 L234.4 35.4 L239.3 40.6 L244.6 46.2 L250.4 52.5 L256.9 59.6 L264.1 67.6 L272.1 76.8 L281.2 87.4 L291.4 99.7 L303.1 113.9 L316.7 130.5 L332.4 150.1 L351.1 173.4 M211.4 -3.3 L214.1 0.5 L217.0 4.3 L220.0 8.3 L223.3 12.4 L226.9 16.7 L230.7 21.1 L234.8 25.7 L239.3 30.5 L244.1 35.7 L249.4 41.1 L255.2 47.1 L261.6 53.5 L268.6 60.7 L276.5 68.7 L285.2 77.7 L295.1 87.9 L306.3 99.6 L319.0 113.3 L333.8 129.2 L351.0 148.1 L371.4 170.7 M218.3 -3.7 L221.3 -0.3 L224.4 3.4 L227.7 7.3 L231.3 11.4 L235.1 15.8 L239.2 20.4 L243.7 25.2 L248.5 30.4 L253.8 35.9 L259.5 41.7 L265.8 47.9 L272.7 54.6 L280.3 61.8 L288.8 69.7 L298.3 78.5 L309.0 88.4 L321.1 99.7 L335.0 112.7 L351.0 128.0 L369.6 146.2 L391.7 168.1 M225.3 -4.2 L228.4 -1.0 L231.8 2.5 L235.4 6.3 L239.2 10.4 L243.3 14.8 L247.8 19.6 L252.6 24.7 L257.8 30.2 L263.5 36.0 L269.6 42.1 L276.4 48.6 L283.8 55.5 L292.1 62.8 L301.2 70.7 L311.4 79.4 L322.9 88.9 L336.0 99.8 L350.9 112.2 L368.1 126.9 L388.2 144.4 L412.0 165.8 M232.2 -4.7 L235.6 -1.7 L239.2 1.6 L243.0 5.3 L247.2 9.3 L251.6 13.9 L256.4 18.8 L261.5 24.1 L267.1 29.9 L273.1 36.0 L279.7 42.5 L287.0 49.2 L295.0 56.3 L303.8 63.8 L313.6 71.7 L324.5 80.1 L336.9 89.4 L350.8 99.9 L366.8 111.9 L385.3 126.0 L406.8 143.0 L432.3 163.8 M239.2 -5.1 L242.8 -2.3 L246.6 0.8 L250.7 4.4 L255.1 8.4 L259.8 13.0 L264.9 18.0 L270.4 23.6 L276.3 29.6 L282.8 35.9 L289.9 42.6 L297.6 49.6 L306.1 56.9 L315.5 64.5 L325.9 72.4 L337.6 80.8 L350.8 89.9 L365.7 100.0 L382.7 111.6 L402.4 125.3 L425.4 141.8 L452.5 162.3 M246.1 -5.4 L250.0 -2.8 L254.0 0.1 L258.4 3.6 L263.1 7.6 L268.1 12.2 L273.5 17.3 L279.3 23.0 L285.6 29.2 L292.5 35.7 L300.0 42.7 L308.2 49.8 L317.2 57.3 L327.2 64.9 L338.3 72.8 L350.7 81.2 L364.7 90.2 L380.5 100.1 L398.6 111.5 L419.6 124.9 L444.0 141.1 L472.8 161.3 M253.1 -5.6 L257.1 -3.2 L261.4 -0.4 L266.1 3.0 L271.0 6.9 L276.3 11.5 L282.0 16.7 L288.2 22.4 L294.9 28.7 L302.2 35.4 L310.1 42.5 L318.8 49.8 L328.4 57.3 L338.9 65.1 L350.7 73.0 L363.8 81.4 L378.6 90.3 L395.4 100.2 L414.6 111.4 L436.7 124.7 L462.5 140.8 L493.1 160.9 M260.0 -5.7 L264.3 -3.4 L268.9 -0.7 L273.7 2.6 L278.9 6.5 L284.5 11.0 L290.6 16.2 L297.1 21.9 L304.2 28.2 L311.8 34.9 L320.2 42.1 L329.4 49.4 L339.5 57.1 L350.7 64.9 L363.1 72.9 L376.9 81.3 L392.5 90.3 L410.2 100.2 L430.5 111.5 L453.9 124.8 L481.1 141.0 L513.4 161.2 M267.0 -5.6 L271.5 -3.4 L276.3 -0.8 L281.4 2.4 L286.9 6.2 L292.8 10.6 L299.1 15.7 L306.0 21.4 L313.4 27.6 L321.5 34.3 L330.3 41.4 L340.0 48.8 L350.6 56.5 L362.4 64.3 L375.4 72.5 L390.0 81.0 L406.5 90.1 L425.1 100.2 L446.4 111.7 L471.0 125.2 L499.7 141.7 L533.7 162.1 M273.9 -5.5 L278.7 -3.3 L283.7 -0.7 L289.1 2.4 L294.8 6.1 L301.0 10.5 L307.7 15.4 L314.9 21.0 L322.7 27.1 L331.2 33.6 L340.4 40.6 L350.6 47.9 L361.7 55.6 L374.1 63.5 L387.8 71.7 L403.1 80.4 L420.4 89.8 L440.0 100.1 L462.3 112.0 L488.2 126.0 L518.3 142.8 L554.0 163.7 M280.9 -5.2 L285.8 -3.0 L291.1 -0.4 L296.7 2.7 L302.8 6.3 L309.3 10.4 L316.2 15.2 L323.8 20.5 L332.0 26.4 L340.9 32.8 L350.6 39.6 L361.2 46.8 L372.9 54.4 L385.8 62.3 L400.2 70.6 L416.2 79.6 L434.3 89.2 L454.8 100.1 L478.2 112.4 L505.3 126.9 L536.9 144.4 L574.3 165.9 M287.8 -4.8 L293.0 -2.5 L298.5 0.1 L304.4 3.1 L310.7 6.6 L317.5 10.6 L324.8 15.1 L332.7 20.2 L341.2 25.8 L350.5 31.9 L360.7 38.5 L371.8 45.5 L384.0 52.9 L397.5 60.9 L412.5 69.3 L429.3 78.5 L448.2 88.6 L469.7 99.9 L494.2 112.9 L522.5 128.1 L555.5 146.4 L594.5 168.6 M294.8 -4.4 L300.2 -2.0 L305.9 0.6 L312.1 3.6 L318.7 7.0 L325.7 10.8 L333.4 15.1 L341.6 19.9 L350.5 25.2 L360.2 30.9 L370.8 37.2 L382.4 44.0 L395.1 51.3 L409.2 59.2 L424.9 67.9 L442.4 77.3 L462.2 87.9 L484.5 99.8 L510.1 113.5 L539.6 129.5 L574.1 148.6 L614.8 171.7 M301.7 -3.9 L307.4 -1.4 L313.3 1.3 L319.7 4.3 L326.6 7.5 L334.0 11.2 L341.9 15.2 L350.5 19.6 L359.8 24.5 L369.9 29.9 L380.9 35.9 L393.0 42.4 L406.3 49.6 L421.0 57.5 L437.3 66.3 L455.5 76.1 L476.1 87.1 L499.4 99.7 L526.0 114.2 L556.8 131.1 L592.7 151.1 L635.1 175.1 M308.7 -3.3 L314.5 -0.7 L320.8 2.0 L327.4 5.0 L334.6 8.1 L342.2 11.6 L350.5 15.3 L359.4 19.4 L369.1 23.9 L379.6 29.0 L391.0 34.6 L403.6 40.8 L417.4 47.8 L432.7 55.7 L449.7 64.6 L468.6 74.8 L490.0 86.3 L514.2 99.6 L541.9 114.9 L573.9 132.8 L611.2 153.8 L655.4 178.8 M315.6 -2.9 L321.7 -0.1 L328.2 2.8 L335.1 5.7 L342.5 8.8 L350.5 12.0 L359.0 15.4 L368.3 19.2 L378.3 23.4 L389.2 28.0 L401.1 33.3 L414.2 39.3 L428.5 46.1 L444.4 54.0 L462.0 63.1 L481.7 73.6 L503.9 85.6 L529.1 99.6 L557.8 115.8 L591.1 134.6 L629.8 156.5 L675.7 182.4 M322.6 -2.4 L328.9 0.5 L335.6 3.4 L342.8 6.4 L350.4 9.3 L358.7 12.4 L367.6 15.6 L377.2 19.1 L387.6 22.9 L398.9 27.2 L411.3 32.1 L424.8 37.8 L439.7 44.5 L456.1 52.4 L474.4 61.7 L494.8 72.5 L517.9 85.0 L543.9 99.7 L573.8 116.6 L608.2 136.3 L648.4 159.2 L696.0 186.0" fill="none" stroke="#fff" stroke-opacity="0.19" stroke-width="1.15" mask="url(#mm)"/>
  </g>
  <!-- logo -->
  <rect x="837.8" y="43.8" width="57.8" height="30.6" fill="#fff"/>
  <path d="M895.6 59.2 L863.3 59.2 L863.3 63.8" fill="none" stroke="#37114a" stroke-width="1.1"/>
  <path d="M902.7 43.8 L960.4 43.8 L931.6 74.4 Z" fill="#5bcbf5"/>
  <rect x="967.8" y="43.8" width="57.1" height="30.6" fill="#fff"/>
  <path d="M1024.9 59.2 L1004.4 59.2 L1024.9 70.2" fill="none" stroke="#37114a" stroke-width="1.1"/>
  <!-- rule -->
  <rect x="849.4" y="281.6" width="163.6" height="1.6" fill="#cfc4dc"/>
</svg>

<div class="dot" style="left:320.4px;top:508.9px;background:#37114a"></div>
<div class="dot" style="left:429.9px;top:508.9px;background:#5bcbf5"></div>
<div class="t" id="t1" style="left:45.20px;top:42.07px;font-size:29.8px;line-height:1;color:#37114a;font-weight:bold;-webkit-text-stroke:2.0px #37114a;transform:scaleX(1.0584);">Global</div>
<div class="t" id="t2" style="left:154.29px;top:42.07px;font-size:29.8px;line-height:1;color:#37114a;font-weight:bold;-webkit-text-stroke:2.0px #37114a;transform:scaleX(0.9844);">Toys</div>
<div class="t" id="t3" style="left:231.03px;top:42.07px;font-size:29.8px;line-height:1;color:#37114a;font-weight:bold;-webkit-text-stroke:2.0px #37114a;transform:scaleX(1.0980);">&amp;</div>
<div class="t" id="t4" style="left:267.50px;top:42.07px;font-size:29.8px;line-height:1;color:#37114a;font-weight:bold;-webkit-text-stroke:2.0px #37114a;transform:scaleX(1.0636);">Games</div>
<div class="t" id="t5" style="left:382.63px;top:42.07px;font-size:29.8px;line-height:1;color:#37114a;font-weight:bold;-webkit-text-stroke:2.0px #37114a;transform:scaleX(1.1408);">Market</div>
<div class="t" id="s1" style="left:45.20px;top:78.77px;font-size:20px;line-height:1;color:#41374a;-webkit-text-stroke:0.45px #41374a;transform:scaleX(1.0699);">share,</div>
<div class="t" id="s2" style="left:109.42px;top:78.77px;font-size:20px;line-height:1;color:#41374a;-webkit-text-stroke:0.45px #41374a;transform:scaleX(0.9136);">by</div>
<div class="t" id="s3" style="left:137.15px;top:78.77px;font-size:20px;line-height:1;color:#41374a;-webkit-text-stroke:0.45px #41374a;transform:scaleX(1.1352);">distribution</div>
<div class="t" id="s4" style="left:251.30px;top:78.77px;font-size:20px;line-height:1;color:#41374a;-webkit-text-stroke:0.45px #41374a;transform:scaleX(1.0483);">channel,</div>
<div class="t" id="s5" style="left:336.10px;top:78.77px;font-size:20px;line-height:1;color:#41374a;-webkit-text-stroke:0.45px #41374a;transform:scaleX(1.1653);">2020</div>
<div class="t" id="s6" style="left:394.80px;top:78.77px;font-size:20px;line-height:1;color:#41374a;-webkit-text-stroke:0.45px #41374a;transform:scaleX(0.9260);">(%)</div>
<div class="t" id="l1" style="left:342.13px;top:505.29px;font-size:18.2px;line-height:1;color:#453a50;-webkit-text-stroke:0.3px #453a50;transform:scaleX(1.0001);">Offline</div>
<div class="t" id="l2" style="left:451.15px;top:505.29px;font-size:18.2px;line-height:1;color:#453a50;-webkit-text-stroke:0.3px #453a50;transform:scaleX(0.9735);">Online</div>
<div class="t" id="g1" style="left:837.42px;top:85.54px;font-size:12.0px;line-height:1;color:#f3eef7;font-weight:bold;letter-spacing:0.500px;-webkit-text-stroke:0.15px #f3eef7;transform:scaleX(1.1844);">GRAND</div>
<div class="t" id="g2" style="left:898.02px;top:85.54px;font-size:12.0px;line-height:1;color:#f3eef7;font-weight:bold;letter-spacing:0.500px;-webkit-text-stroke:0.15px #f3eef7;transform:scaleX(1.2000);">VIEW</div>
<div class="t" id="g3" style="left:943.98px;top:85.54px;font-size:12.0px;line-height:1;color:#f3eef7;font-weight:bold;letter-spacing:0.500px;-webkit-text-stroke:0.15px #f3eef7;transform:scaleX(1.1598);">RESEARCH</div>
<div class="t" id="big" style="left:834.07px;top:231.46px;font-size:46px;line-height:1;color:#fff;font-weight:bold;-webkit-text-stroke:0.8px #fff;transform:scaleX(1.1377);">$275.8B</div>
<div class="t" id="gms" style="left:851.41px;top:292.89px;font-size:18.2px;line-height:1;color:#fff;-webkit-text-stroke:0.25px #fff;transform:scaleX(1.0097);">Global Market Size,</div>
<div class="t" id="y2020" style="left:908.62px;top:316.09px;font-size:18.2px;line-height:1;color:#fff;-webkit-text-stroke:0.25px #fff;transform:scaleX(1.1174);">2020</div>
<div class="t" id="src" style="left:823.37px;top:495.83px;font-size:16.5px;line-height:1;color:#fff;font-weight:bold;-webkit-text-stroke:0.3px #fff;transform:scaleX(0.9678);">Source:</div>
<div class="t" id="url" style="left:823.82px;top:515.78px;font-size:16.8px;line-height:1;color:#fff;-webkit-text-stroke:0.25px #fff;transform:scaleX(0.9879);">www.grandviewresearch.com</div>
<div class="a" id="frame"></div>
</div>
</body></html>
